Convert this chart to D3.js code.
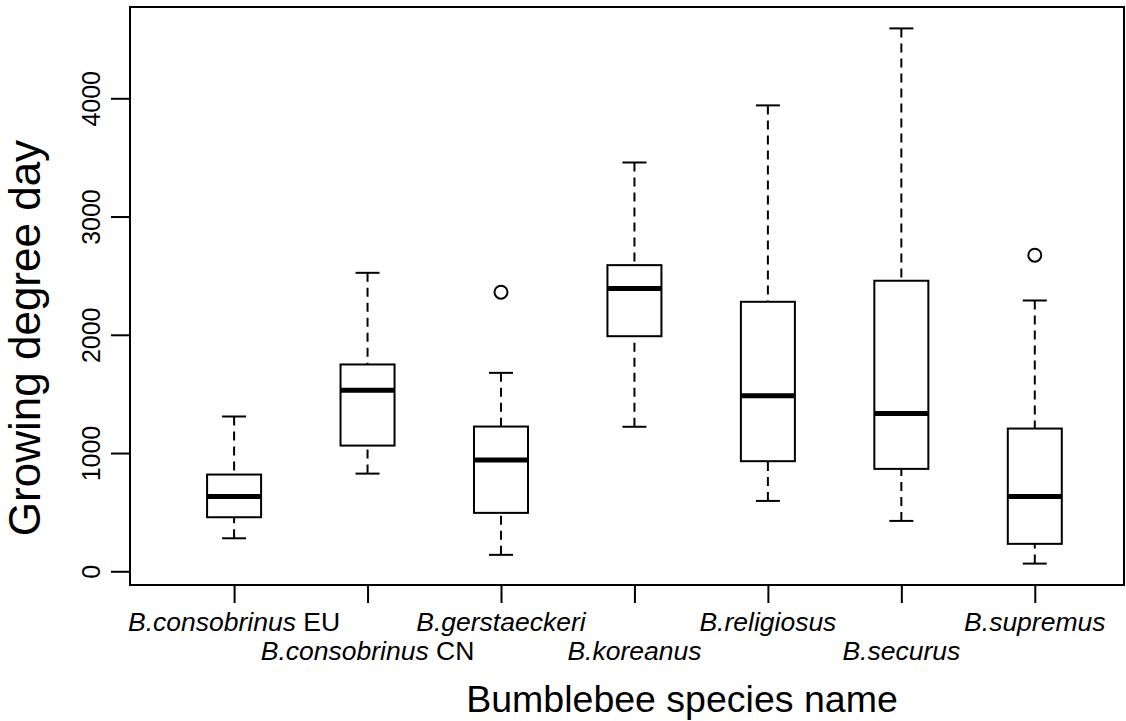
<!DOCTYPE html>
<html>
<head>
<meta charset="utf-8">
<script src="https://cdn.jsdelivr.net/npm/d3@7"></script>
<style>
body { margin: 0; background: #fff; }
text { font-family: "Liberation Sans", Arial, sans-serif; fill: #000; }
.frame { fill: none; stroke: #000; stroke-width: 2px; }
.box { fill: #fff; stroke: #000; stroke-width: 2px; }
.med { stroke: #000; stroke-width: 5px; }
.whisk { stroke: #000; stroke-width: 2px; stroke-dasharray: 9,6; }
.staple { stroke: #000; stroke-width: 2px; }
.out { fill: none; stroke: #000; stroke-width: 2px; }
</style>
</head>
<body>
<script>
// species labels: italic part + plain suffix
var speciesNames = ["B.consobrinus", "B.consobrinus", "B.gerstaeckeri", "B.koreanus", "B.religiosus", "B.securus", "B.supremus"];
var regionSuffix = ["EU", "CN", "", "", "", "", ""];

// box stats (growing degree day)
var whiskerLow  = [279, 826, 139, 1222, 595, 426, 65];
var lowerQ      = [457, 1063, 494, 1988, 931, 866, 232];
var medians     = [632, 1531, 942, 2392, 1484, 1334, 632];
var upperQ      = [818, 1749, 1224, 2589, 2279, 2457, 1207];
var whiskerHigh = [1309, 2524, 1678, 3457, 3940, 4591, 2290];
var outliers    = [[], [], [2360], [], [], [], [2673]];

var yTicks = [0, 1000, 2000, 3000, 4000];

var width = 1126, height = 721;
var plotLeft = 130, plotRight = 1124, plotTop = 7, plotBottom = 585;

var svg = d3.select("body").append("svg")
    .attr("width", width)
    .attr("height", height);

var x = d3.scaleLinear().domain([0.22, 7.78]).range([plotLeft, plotLeft + 7.56 * 133.45]);
var y = d3.scaleLinear().domain([-116, 4772]).range([plotBottom, plotTop]);

var data = speciesNames.map(function(n, i) {
  return {i: i + 1, name: n, suffix: regionSuffix[i], lo: whiskerLow[i], q1: lowerQ[i],
          med: medians[i], q3: upperQ[i], hi: whiskerHigh[i], out: outliers[i]};
});

var halfBox = 27, halfStaple = 12;

// boxes
var g = svg.append("g").selectAll(".bx").data(data).enter().append("g").attr("class", "bx");

g.append("line").attr("class", "whisk")
  .attr("x1", function(d) { return x(d.i); }).attr("x2", function(d) { return x(d.i); })
  .attr("y1", function(d) { return y(d.hi); }).attr("y2", function(d) { return y(d.q3); });
g.append("line").attr("class", "whisk")
  .attr("x1", function(d) { return x(d.i); }).attr("x2", function(d) { return x(d.i); })
  .attr("y1", function(d) { return y(d.lo); }).attr("y2", function(d) { return y(d.q1); });

g.append("line").attr("class", "staple")
  .attr("x1", function(d) { return x(d.i) - halfStaple; }).attr("x2", function(d) { return x(d.i) + halfStaple; })
  .attr("y1", function(d) { return y(d.hi); }).attr("y2", function(d) { return y(d.hi); });
g.append("line").attr("class", "staple")
  .attr("x1", function(d) { return x(d.i) - halfStaple; }).attr("x2", function(d) { return x(d.i) + halfStaple; })
  .attr("y1", function(d) { return y(d.lo); }).attr("y2", function(d) { return y(d.lo); });

g.append("rect").attr("class", "box")
  .attr("x", function(d) { return x(d.i) - halfBox; })
  .attr("width", halfBox * 2)
  .attr("y", function(d) { return y(d.q3); })
  .attr("height", function(d) { return y(d.q1) - y(d.q3); });

g.append("line").attr("class", "med")
  .attr("x1", function(d) { return x(d.i) - halfBox; }).attr("x2", function(d) { return x(d.i) + halfBox; })
  .attr("y1", function(d) { return y(d.med); }).attr("y2", function(d) { return y(d.med); });

g.selectAll(".out").data(function(d) { return d.out.map(function(v) { return {i: d.i, v: v}; }); })
  .enter().append("circle").attr("class", "out")
  .attr("cx", function(d) { return x(d.i); })
  .attr("cy", function(d) { return y(d.v); })
  .attr("r", 6.5);

// frame
svg.append("rect").attr("class", "frame")
  .attr("x", plotLeft).attr("y", plotTop)
  .attr("width", plotRight - plotLeft).attr("height", plotBottom - plotTop);

// y axis
var yAxis = svg.append("g")
  .attr("transform", "translate(" + plotLeft + ",0)")
  .call(d3.axisLeft(y).tickValues(yTicks).tickSize(19).tickFormat(d3.format("d")));
yAxis.select(".domain").remove();
yAxis.selectAll(".tick line").attr("stroke", "#000").attr("stroke-width", 2);
yAxis.selectAll(".tick text")
  .attr("x", null).attr("dy", null)
  .attr("transform", "translate(-30,0) rotate(-90)")
  .attr("text-anchor", "middle")
  .style("font-family", "'Liberation Sans', Arial, sans-serif")
  .style("font-size", "25px")
  .attr("fill", "#000");

// x axis
var xAxis = svg.append("g")
  .attr("transform", "translate(0," + plotBottom + ")")
  .call(d3.axisBottom(x).tickValues(d3.range(1, 8)).tickSize(18).tickFormat(""));
xAxis.select(".domain").remove();
xAxis.selectAll(".tick line").attr("stroke", "#000").attr("stroke-width", 2);

var lab = svg.append("g").selectAll("text").data(data).enter().append("text")
  .attr("x", function(d) { return x(d.i); })
  .attr("y", function(d) { return d.i % 2 === 1 ? 631 : 660; })
  .attr("text-anchor", "middle")
  .style("font-size", "26.5px");
lab.append("tspan").style("font-style", "italic").text(function(d) { return d.name; });
lab.append("tspan").text(function(d) { return d.suffix ? " " + d.suffix : ""; });

// axis titles
svg.append("text")
  .attr("x", 682).attr("y", 712)
  .attr("text-anchor", "middle")
  .style("font-size", "37.5px")
  .text("Bumblebee species name");

svg.append("text")
  .attr("transform", "translate(40,338) rotate(-90)")
  .attr("text-anchor", "middle")
  .style("font-size", "44px")
  .text("Growing degree day");
</script>
</body>
</html>
